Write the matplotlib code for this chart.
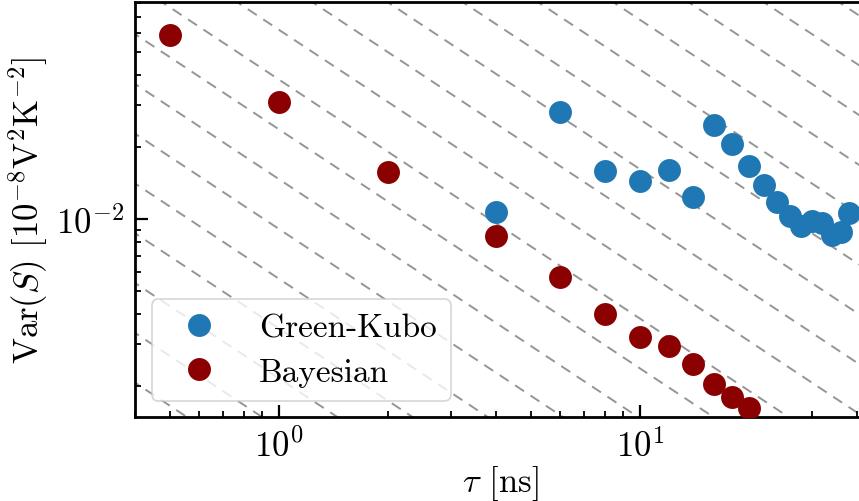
import numpy as np
import matplotlib
matplotlib.use("Agg")
import matplotlib.pyplot as plt

plt.rcParams.update({
    "font.family": "serif",
    "font.serif": ["cmr10", "DejaVu Serif"],
    "mathtext.fontset": "cm",
    "axes.formatter.use_mathtext": True,
    "axes.unicode_minus": False,
    "font.size": 25,
})

# Correlation time (ns) and variance of the Seebeck coefficient
tau_gk = [4, 6, 8, 10, 12, 14, 16, 18, 20, 22, 24, 26, 28, 30, 32, 34, 36, 38]
var_gk = [0.01067, 0.0281, 0.01588, 0.01447, 0.01598, 0.01232, 0.02481, 0.0206,
          0.01667, 0.01387, 0.01175, 0.01032, 0.00937, 0.00984, 0.00962, 0.00857,
          0.0088, 0.0106]

tau_bayes = [0.5, 1, 2, 4, 6, 8, 10, 12, 14, 16, 18, 20]
var_bayes = [0.0588, 0.0308, 0.01578, 0.00846, 0.00574, 0.004004, 0.003218,
             0.00295, 0.002473, 0.00204, 0.0018, 0.001626]

series_labels = ["Green-Kubo", "Bayesian"]
series_colors = ["#1f77b4", "#8b0000"]

xlim = (0.4, 42)
ylim = (1.485e-3, 0.0809)

W, H = 859, 502
fig = plt.figure(figsize=(W / 100, H / 100), dpi=100)
x0, x1 = 135.3, 865.0
y0, y1 = 418.0, 3.0
ax = fig.add_axes([x0 / W, (H - y0) / H, (x1 - x0) / W, (y0 - y1) / H])

# 1/tau reference lines
xs = np.logspace(np.log10(xlim[0]) - 0.1, np.log10(xlim[1]) + 0.1, 200)
for k in range(-12, 10):
    c = 0.1 * 10 ** (k * 5 / 24)
    ax.plot(xs, c / xs, color="#959595", lw=1.4, ls=(0, (5.5, 4)), zorder=1)

ax.plot(tau_gk, var_gk, "o", ms=16.5, color=series_colors[0], mew=0,
        label=series_labels[0], zorder=3)
ax.plot(tau_bayes, var_bayes, "o", ms=16.5, color=series_colors[1], mew=0,
        label=series_labels[1], zorder=3)

ax.set_xscale("log")
ax.set_yscale("log")
ax.set_xlim(*xlim)
ax.set_ylim(*ylim)

for s in ax.spines.values():
    s.set_linewidth(2.0)
ax.tick_params(which="major", direction="in", length=9, width=1.6, pad=8)
ax.tick_params(which="minor", direction="in", length=4.5, width=1.3)

ax.set_xlabel(r"$\tau$ [ns]", labelpad=0)
ax.set_ylabel(r"$\mathrm{Var}(S)$ $[10^{-8}\mathrm{V}^2\mathrm{K}^{-2}]$", labelpad=4)

ax_w, ax_h = x1 - x0, y0 - y1
leg = ax.legend(loc="lower left", bbox_to_anchor=(16.5 / ax_w, 16 / ax_h),
                borderaxespad=0, fancybox=True, framealpha=0.8,
                handlelength=2.0, handletextpad=0.8, borderpad=0.42,
                labelspacing=0.45, fontsize=24)
leg.get_frame().set_linewidth(1.2)

fig.savefig("out.png", dpi=100)
